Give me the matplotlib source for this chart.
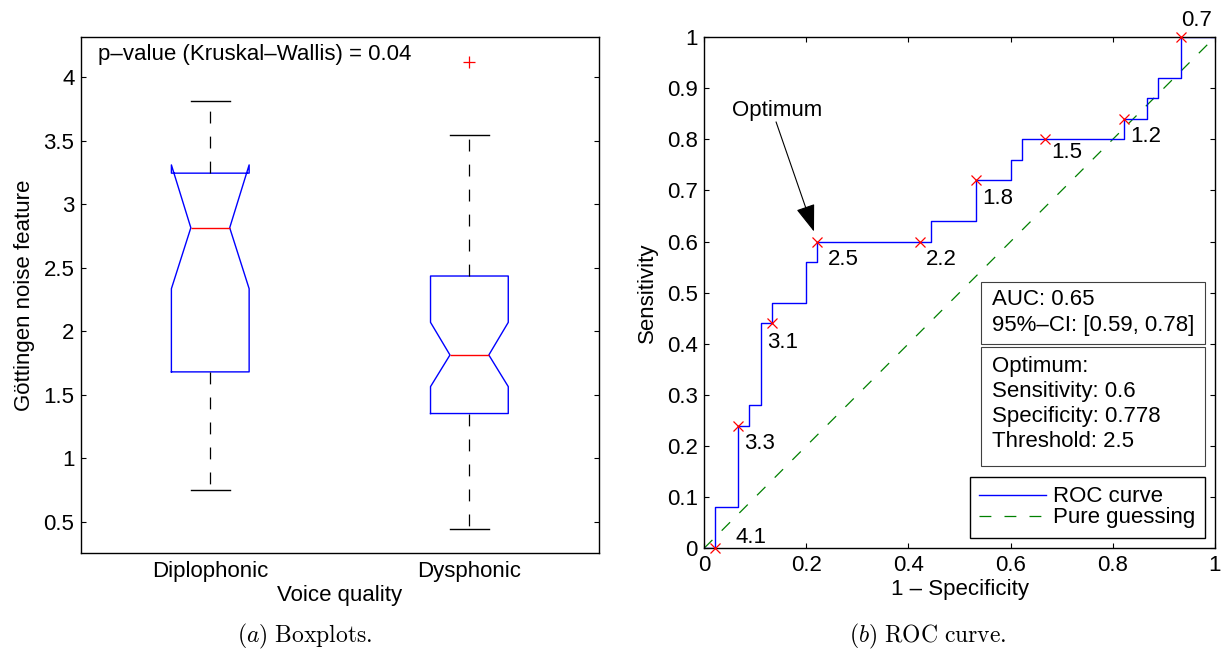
import matplotlib
matplotlib.use("Agg")
import matplotlib.pyplot as plt
from matplotlib.patches import Rectangle, ArrowStyle
from matplotlib.lines import Line2D
from matplotlib.ticker import FuncFormatter, MultipleLocator

plt.rcParams['font.family'] = ['Liberation Sans', 'DejaVu Sans']
plt.rcParams['mathtext.fontset'] = 'cm'
plt.rcParams['font.size'] = 16
plt.rcParams['axes.linewidth'] = 1.0

# ---- Boxplot summary statistics -------------------------------------------
groups = ['Diplophonic', 'Dysphonic']
q1 = [1.680, 1.352]
medians = [2.815, 1.813]
q3 = [3.245, 2.435]
whisker_low = [0.746, 0.445]
whisker_high = [3.816, 3.546]
notch_low = [2.335, 1.564]
notch_high = [3.310, 2.070]
outliers = [[], [4.123]]
p_value = 0.04

# ---- ROC curve --------------------------------------------------------------
roc_fpr = [0.0, 0.022, 0.067, 0.089, 0.111, 0.133, 0.200, 0.222, 0.444,
           0.533, 0.600, 0.622, 0.822, 0.867, 0.889, 0.933, 1.0]
roc_tpr = [0.0, 0.08, 0.24, 0.28, 0.44, 0.48, 0.56, 0.60, 0.64,
           0.72, 0.76, 0.80, 0.84, 0.88, 0.92, 1.00, 1.00]
thr_fpr = [0.022, 0.067, 0.133, 0.222, 0.422, 0.533, 0.667, 0.822, 0.933]
thr_tpr = [0.00, 0.24, 0.44, 0.60, 0.60, 0.72, 0.80, 0.84, 1.00]
thr_values = [4.1, 3.3, 3.1, 2.5, 2.2, 1.8, 1.5, 1.2, 0.7]
auc = 0.65
auc_ci = (0.59, 0.78)
opt_sensitivity = 0.6
opt_specificity = 0.778
opt_threshold = 2.5

DASH = (9.5, 10.5)

fig = plt.figure(figsize=(12.31, 6.52), dpi=100)

# ============================ (a) Boxplots ==================================
ax1 = fig.add_axes([0.06556, 0.1523, 0.4210, 0.7905])
stats = []
for i, name in enumerate(groups):
    stats.append(dict(label=name, med=medians[i], q1=q1[i], q3=q3[i],
                      whislo=whisker_low[i], whishi=whisker_high[i],
                      cilo=notch_low[i], cihi=notch_high[i],
                      fliers=outliers[i]))
ax1.bxp(stats, positions=[1, 2], widths=0.3, shownotches=True,
        boxprops=dict(color='blue', lw=1.0),
        medianprops=dict(color='red', lw=1.0),
        whiskerprops=dict(color='black', lw=0.9, dashes=DASH),
        capprops=dict(color='black', lw=1.0),
        flierprops=dict(marker='+', markeredgecolor='red', markersize=9,
                        markeredgewidth=0.9, linestyle='none'))
ax1.set_xlim(0.5, 2.5)
ax1.set_ylim(0.256, 4.315)
ax1.yaxis.set_major_locator(MultipleLocator(0.5))
ax1.yaxis.set_major_formatter(FuncFormatter(lambda v, _: f'{v:g}'))
ax1.tick_params(axis='y', direction='in', length=3.6, width=0.8,
                left=True, right=True, pad=4.5, labelsize=16)
ax1.tick_params(axis='x', length=0, pad=6, labelsize=16)
ax1.set_xlabel('Voice quality', fontsize=16, labelpad=2)
ax1.set_ylabel('Göttingen noise feature', fontsize=16, labelpad=6)
ax1.text(0.034, 0.9657,
         f'p\u2013value (Kruskal\u2013Wallis) = {p_value:g}',
         transform=ax1.transAxes, ha='left', va='center', fontsize=16)

# ============================ (b) ROC curve =================================
ax2 = fig.add_axes([0.5719, 0.1590, 0.4151, 0.7842])
ax2.plot([0, 1], [0, 1], color=(0, 0.5, 0), lw=0.9, dashes=DASH)
ax2.plot(roc_fpr, roc_tpr, color='blue', lw=1.0, drawstyle='steps-post')
ax2.plot(thr_fpr, thr_tpr, linestyle='none', marker='x', color='red',
         markersize=7, markeredgewidth=0.9, clip_on=False, zorder=5)

label_offsets = {'4.1': (14.4, 7.9), '3.1': (-3.6, -13.7),
                 '2.5': (7.2, -13.0), '1.5': (4.3, -9.4),
                 '0.7': (0.0, 12.2)}
for x, y, t in zip(thr_fpr, thr_tpr, thr_values):
    lab = f'{t:g}'
    dx, dy = label_offsets.get(lab, (4.3, -13.0))
    ax2.annotate(lab, (x, y), xytext=(dx, dy), textcoords='offset points',
                 ha='left', va='center', fontsize=16, annotation_clip=False)

# arrow to the optimum operating point
opt_fpr = 1 - opt_specificity
ax2.annotate('', xy=(opt_fpr, opt_sensitivity), xytext=(0.141, 0.834),
             arrowprops=dict(arrowstyle=ArrowStyle('-|>', head_length=1.7,
                                                   head_width=0.6),
                             mutation_scale=10, color='black', lw=0.8,
                             shrinkA=0, shrinkB=7.6))
ax2.text(0.054, 0.857, 'Optimum', ha='left', va='center', fontsize=16)

ax2.set_xlim(0, 1)
ax2.set_ylim(0, 1)
ax2.xaxis.set_major_locator(MultipleLocator(0.2))
ax2.yaxis.set_major_locator(MultipleLocator(0.1))
fmt = FuncFormatter(lambda v, _: f'{v:g}')
ax2.xaxis.set_major_formatter(fmt)
ax2.yaxis.set_major_formatter(fmt)
ax2.tick_params(direction='in', length=3.6, width=0.8, top=True, right=True,
                labelsize=16)
ax2.tick_params(axis='y', pad=4.5)
ax2.tick_params(axis='x', pad=5)
ax2.set_xlabel('1 \u2013 Specificity', fontsize=16, labelpad=2)
ax2.set_ylabel('Sensitivity', fontsize=16, labelpad=6)

# info boxes
box_left, box_right = 0.5415, 0.980
ax2.add_patch(Rectangle((box_left, 0.4006), box_right - box_left,
                        0.521 - 0.4006, fill=False, edgecolor='0.25',
                        lw=0.8, zorder=6))
ax2.add_patch(Rectangle((box_left, 0.161), box_right - box_left,
                        0.3928 - 0.161, fill=False, edgecolor='0.25',
                        lw=0.8, zorder=6))
tx = 0.563
ax2.text(tx, 0.4867, f'AUC: {auc:g}', ha='left', va='center', fontsize=16)
ax2.text(tx, 0.4364, f'95%\u2013CI: [{auc_ci[0]:g}, {auc_ci[1]:g}]',
         ha='left', va='center', fontsize=16)
opt_lines = ['Optimum:', f'Sensitivity: {opt_sensitivity:g}',
             f'Specificity: {opt_specificity:g}',
             f'Threshold: {opt_threshold:g}']
for yy, s in zip([0.3562, 0.3059, 0.2583, 0.2094], opt_lines):
    ax2.text(tx, yy, s, ha='left', va='center', fontsize=16)

handles = [Line2D([], [], color='blue', lw=1.0),
           Line2D([], [], color=(0, 0.5, 0), lw=0.9, dashes=DASH)]
leg = ax2.legend(handles, ['ROC curve', 'Pure guessing'],
                 loc='lower right', bbox_to_anchor=(0.980, 0.0209),
                 bbox_transform=ax2.transAxes, borderaxespad=0,
                 fancybox=False, framealpha=1, edgecolor='black',
                 fontsize=16, handlelength=3.0, handletextpad=0.33,
                 borderpad=0.42, labelspacing=0.0)
leg.get_frame().set_linewidth(1.0)

# captions
fig.text(0.2478, 0.0235, r'$\mathit{(a)}\ \mathrm{Boxplots.}$',
         ha='center', va='center', fontsize=17)
fig.text(0.7539, 0.0235, r'$\mathit{(b)}\ \mathrm{ROC\ curve.}$',
         ha='center', va='center', fontsize=17)

fig.savefig('out.png', dpi=100)
